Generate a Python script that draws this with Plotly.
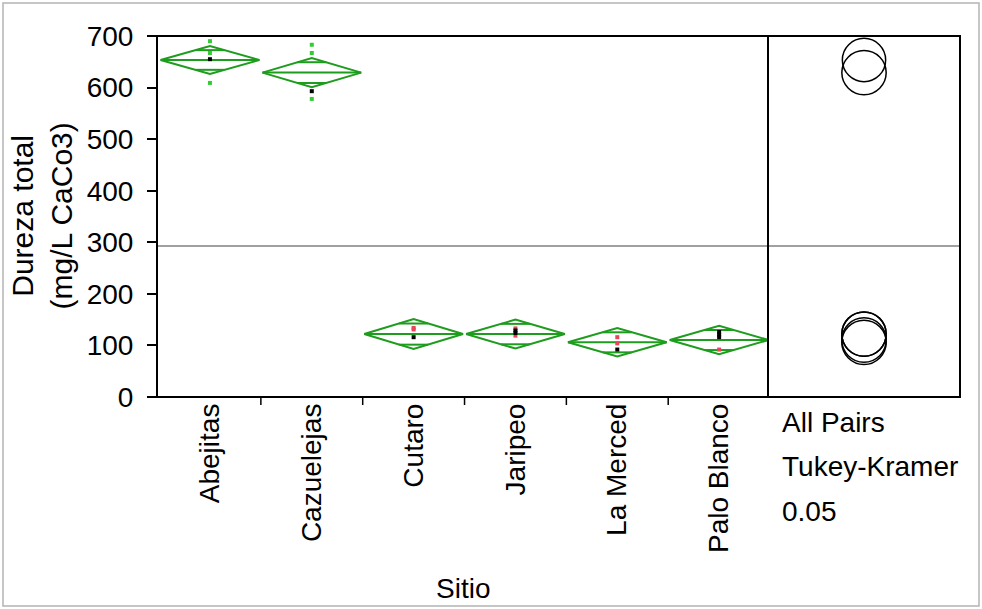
import plotly.graph_objects as go
import math

# ---------------- data ----------------
sitios = ["Abejitas", "Cazuelejas", "Cutaro", "Jaripeo", "La Merced", "Palo Blanco"]
medias = [653.5, 629.0, 122.0, 122.0, 106.0, 110.5]
ic95 = [27.0, 28.5, 29.0, 28.0, 27.5, 27.5]          # half width of 95% CI (diamond)
radios_tk = [42.0, 43.0, 43.0, 43.0, 43.0, 43.0]      # comparison circle radius
media_global = 293.0

obs_sitio = ["Abejitas"] * 4 + ["Cazuelejas"] * 4 + ["Cutaro"] * 3 + ["Jaripeo"] * 4 + ["La Merced"] * 3 + ["Palo Blanco"] * 4
obs_valor = [690, 667, 655, 609,
             683, 667, 593, 578,
             134, 131, 116,
             133, 119, 129, 124,
             116, 104, 92,
             126, 121, 116, 92]
obs_grupo = ["g", "g", "k", "g",
             "g", "g", "k", "g",
             "r", "r", "k",
             "r", "r", "k", "k",
             "r", "r", "k",
             "k", "k", "k", "r"]

ytick_vals = [0, 100, 200, 300, 400, 500, 600, 700]
textos_panel = ["All Pairs", "Tukey-Kramer", "0.05"]

# ---------------- layout constants ----------------
W, H = 982, 609
L, R, T, B = 157, 22, 36, 212
PW, PH = W - L - R, H - T - B
split_px = 768
dom_main = (split_px - L) / PW
YMAX = 700
ppu = PH / YMAX
x2_range = (W - R - split_px) / ppu

FONT = "Liberation Sans, Arial, sans-serif"
FS = 28
GREEN = "#1e9c1e"
colors = {"g": "#33cc33", "k": "#000000", "r": "#e8455a"}

fig = go.Figure()

# diamonds
hw = 0.485
dx, dy = [], []
for i, (m, c) in enumerate(zip(medias, ic95)):
    dx += [i - hw, i, i + hw, i, i - hw, None]
    dy += [m, m + c, m, m - c, m, None]
    dx += [i - hw, i + hw, None]
    dy += [m, m, None]
    f = 1 / math.sqrt(2)
    ow = hw * (1 - f)
    for s in (1, -1):
        dx += [i - ow, i + ow, None]
        dy += [m + s * c * f, m + s * c * f, None]
fig.add_trace(go.Scatter(x=dx, y=dy, mode="lines", line=dict(color=GREEN, width=2),
                         hoverinfo="skip", showlegend=False))

# points
idx = {s: i for i, s in enumerate(sitios)}
for g in ["g", "r", "k"]:
    xs = [idx[s] for s, gg in zip(obs_sitio, obs_grupo) if gg == g]
    ys = [v for v, gg in zip(obs_valor, obs_grupo) if gg == g]
    fig.add_trace(go.Scatter(x=xs, y=ys, mode="markers",
                             marker=dict(symbol="square", size=4, color=colors[g], line=dict(width=0)),
                             showlegend=False))

# invisible trace on right panel to create axis
fig.add_trace(go.Scatter(x=[x2_range / 2], y=[media_global], xaxis="x2", yaxis="y",
                         mode="markers", marker=dict(opacity=0), showlegend=False, hoverinfo="skip"))

shapes = []
# grand mean line
shapes.append(dict(type="line", xref="paper", yref="y", x0=0, x1=1, y0=media_global, y1=media_global,
                   line=dict(color="#808080", width=1.5), layer="below"))
# comparison circles
for m, r in zip(medias, radios_tk):
    cx = x2_range / 2
    shapes.append(dict(type="circle", xref="x2", yref="y", x0=cx - r, x1=cx + r, y0=m - r, y1=m + r,
                       line=dict(color="black", width=1.5)))
# frames
shapes.append(dict(type="rect", xref="paper", yref="paper", x0=0, x1=dom_main, y0=0, y1=1,
                   line=dict(color="black", width=2)))
shapes.append(dict(type="rect", xref="paper", yref="paper", x0=dom_main, x1=1, y0=0, y1=1,
                   line=dict(color="black", width=2)))
# category boundary ticks
for i in range(len(sitios) - 1):
    shapes.append(dict(type="line", xref="x", yref="paper", x0=i + 0.5, x1=i + 0.5,
                       y0=0, y1=-8 / PH, line=dict(color="black", width=1.5)))
# outer light border
shapes.append(dict(type="rect", xref="paper", yref="paper",
                   x0=(3 - L) / PW, x1=(979 - L) / PW, y0=(T + PH - 606) / PH, y1=(T + PH - 3) / PH,
                   line=dict(color="#b4b4b4", width=1.5)))

annotations = []
for k, t in enumerate(textos_panel):
    ypx = 422 + k * 44.5
    annotations.append(dict(text=t, xref="paper", yref="paper", x=(780 - L) / PW, y=(T + PH - ypx) / PH,
                            xanchor="left", yanchor="middle", showarrow=False,
                            font=dict(family=FONT, size=FS, color="black")))
annotations.append(dict(text="Sitio", xref="paper", yref="paper", x=dom_main / 2, y=(T + PH - 588) / PH,
                        xanchor="center", yanchor="middle", showarrow=False,
                        font=dict(family=FONT, size=FS, color="black")))
annotations.append(dict(text="Dureza total<br>(mg/L CaCo3)", xref="paper", yref="paper",
                        x=(41 - L) / PW, y=0.5, xanchor="center", yanchor="middle", textangle=-90,
                        showarrow=False, font=dict(family=FONT, size=30, color="black")))

fig.update_layout(
    width=W, height=H, margin=dict(l=L, r=R, t=T, b=B, pad=0),
    paper_bgcolor="white", plot_bgcolor="white",
    font=dict(family=FONT, size=FS, color="black"),
    showlegend=False,
    xaxis=dict(domain=[0, dom_main], range=[-0.52, 5.48], tickmode="array",
               tickvals=list(range(len(sitios))), ticktext=sitios, tickangle=-90,
               ticks="", showgrid=False, zeroline=False, showline=False,
               tickfont=dict(family=FONT, size=FS, color="black")),
    xaxis2=dict(domain=[dom_main, 1], range=[0, x2_range], anchor="y", showticklabels=False,
                ticks="", showgrid=False, zeroline=False, showline=False),
    yaxis=dict(range=[0, YMAX], tickmode="array", tickvals=ytick_vals, ticks="outside",
               ticklen=9, tickwidth=1.5, tickcolor="black", showgrid=False, zeroline=False,
               showline=False, ticklabelstandoff=8,
               tickfont=dict(family=FONT, size=FS, color="black")),
    shapes=shapes, annotations=annotations,
)

fig.write_html("out.html", config={"displayModeBar": False},
               post_script="document.body.style.margin='0';document.body.style.overflow='hidden';")
